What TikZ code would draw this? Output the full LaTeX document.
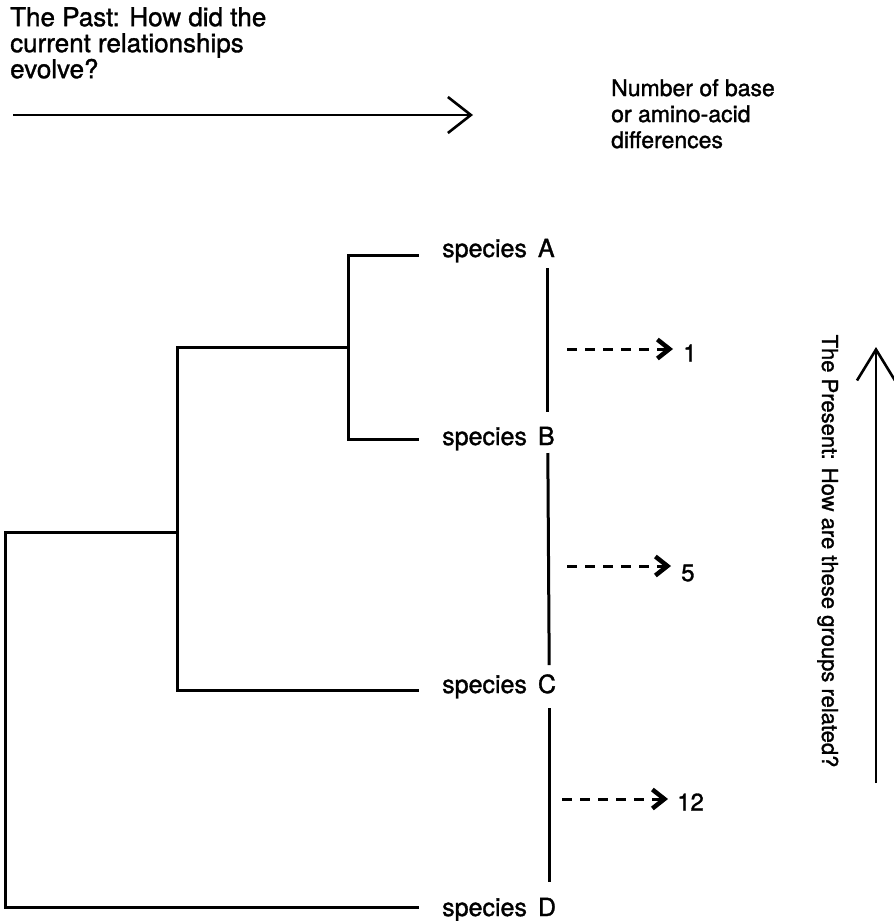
\documentclass[tikz,border=0pt]{standalone}
\usepackage{fontspec}
\setmainfont{TeX Gyre Heros}[FakeBold=1.3]
\usetikzlibrary{arrows.meta,calc}
\begin{document}
\begin{tikzpicture}[x=1pt,y=-1pt,
  branch/.style={line width=3pt,line cap=rect,line join=miter},
  stem/.style={line width=3pt},
  bigarrow/.style={line width=2.6pt,-{Straight Barb[length=23pt,width=36pt,line width=2.6pt]}},
  diffarrow/.style={line width=3pt,dash pattern=on 10pt off 8pt,
    -{Straight Barb[length=12pt,width=19pt,line width=4.5pt]}},
  caption/.style={inner sep=0pt,align=left},
  species/.style={inner sep=0pt,anchor=base west,font=\fontsize{25}{29}\selectfont},
  count/.style={inner sep=0pt,anchor=west,font=\fontsize{24}{29}\selectfont}
]
\useasboundingbox (0,0) rectangle (894,921);

% captions
\node[caption,anchor=north west,font=\fontsize{26}{26}\selectfont] (past) at (10,7)
  {The Past: How did the\\current relationships\\evolve?};
\node[caption,anchor=north west,font=\fontsize{23}{26}\selectfont] (diffs) at (611,79)
  {Number of base\\or amino-acid\\differences};
\node[inner sep=0pt,anchor=base,rotate=-90,font=\fontsize{22}{26}\selectfont] (present)
  at (822,551) {The Present: How are these groups related?};

% time arrows
\coordinate (pastL) at (13,115);
\coordinate (pastR) at (473,115);
\draw[bigarrow] (pastL) -- (pastR);
\coordinate (presB) at (876,783);
\coordinate (presT) at (876,347);
\draw[bigarrow,-{Straight Barb[length=31pt,width=38pt,line width=2.6pt]}] (presB) -- (presT);

% species labels
\node[species] (spA) at (442,257) {species\hspace{11pt}A};
\node[species] (spB) at (442,445) {species\hspace{11pt}B};
\node[species] (spC) at (442,693) {species\hspace{11pt}C};
\node[species] (spD) at (442,916) {species\hspace{11pt}D};

% tree
\coordinate (tA) at (417,255);
\coordinate (tB) at (417,439);
\coordinate (tC) at (417,690);
\coordinate (tD) at (417,907);
\coordinate (nAB) at (348,347);
\coordinate (nABC) at (177,532);
\coordinate (nRoot) at (5,720);
\draw[branch] (tA) -| (nAB) |- (tB);
\draw[branch] (nAB) -| (nABC) |- (tC);
\draw[branch] (nABC) -| (nRoot) |- (tD);

% stems between neighbouring species
\draw[stem] ([shift={(-7,11)}]spA.base east) -- ([shift={(-7,-33)}]spB.base east);
\draw[stem] ([shift={(-7,8)}]spB.base east) -- ([shift={(-7,-28)}]spC.base east);
\draw[stem] ([shift={(-7,15)}]spC.base east) -- ([shift={(-7,-34)}]spD.base east);

% differences
\node[count] (d1) at (683,353) {1};
\node[count] (d5) at (681,573) {5};
\node[count] (d12) at (677,802) {12};
\coordinate (s1) at (567,349);
\coordinate (s5) at (567,566);
\coordinate (s12) at (562,799);
\draw[diffarrow] (s1) -- ($(d1.west |- s1)+(-10,0)$);
\draw[diffarrow] (s5) -- ($(d5.west |- s5)+(-10,0)$);
\draw[diffarrow] (s12) -- ($(d12.west |- s12)+(-9,0)$);
\end{tikzpicture}
\end{document}
